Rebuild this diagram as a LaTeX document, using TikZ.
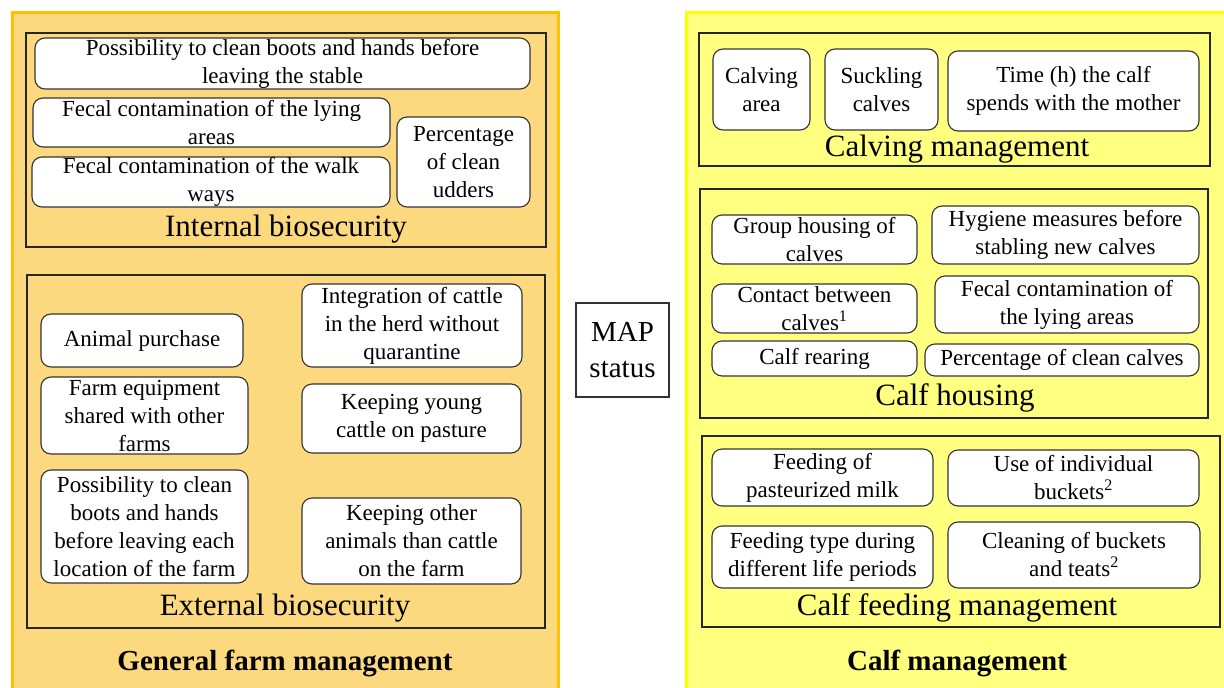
\documentclass[tikz,border=0pt]{standalone}
\usepackage{fontspec}
\setmainfont{Liberation Serif}
\definecolor{farmfill}{RGB}{252,216,127}
\definecolor{farmline}{RGB}{255,192,0}
\definecolor{calffill}{RGB}{255,255,128}
\definecolor{calfline}{RGB}{255,255,0}

\begin{document}
\begin{tikzpicture}[x=1pt, y=-1pt,
  item/.style = {shape=rectangle, rounded corners=10pt, draw=black!80, line width=1.1pt,
    fill=white, align=center, inner sep=0pt, font=\fontsize{23}{28}\selectfont},
  group/.style = {draw=black!85, line width=1.8pt},
  grouptitle/.style = {font=\fontsize{31}{36}\selectfont},
  paneltitle/.style = {font=\fontsize{29}{34}\selectfont\bfseries}]
  \useasboundingbox (0,0) rectangle (1224,688);
  \clip (0,0) rectangle (1224,688);

  % the two panels
  \draw[fill=farmfill, draw=farmline, line width=3pt] (12,12) rectangle (558,700);
  \draw[fill=calffill, draw=calfline, line width=3pt] (686,12) rectangle (1230,700);

  % internal biosecurity
  \draw[group] (26,33) rectangle (546,247);
  \node[item, minimum width=495, minimum height=51] (ib1) at (282.5,63.5)
    {Possibility to clean boots and hands before\\leaving the stable};
  \node[item, minimum width=357, minimum height=49] (ib2) at (211.5,122.5)
    {Fecal contamination of the lying\\areas};
  \node[item, minimum width=358, minimum height=50] (ib3) at (211,182)
    {Fecal contamination of the walk\\ways};
  \node[item, minimum width=133, minimum height=90] (ib4) at (463.5,162)
    {Percentage\\of clean\\udders};
  \node[grouptitle] (ibtitle) at (286,229) {Internal biosecurity};

  % external biosecurity
  \draw[group] (27,275) rectangle (545,628);
  \node[item, minimum width=202, minimum height=53] (eb1) at (142,340.5)
    {Animal purchase};
  \node[item, minimum width=207, minimum height=77] (eb2) at (144.5,415.5)
    {Farm equipment\\shared with other\\farms};
  \node[item, minimum width=207, minimum height=113] (eb3) at (144.5,526.5)
    {Possibility to clean\\boots and hands\\before leaving each\\location of the farm};
  \node[item, minimum width=220, minimum height=83] (eb4) at (412,325.5)
    {Integration of cattle\\in the herd without\\quarantine};
  \node[item, minimum width=219, minimum height=69] (eb5) at (411.5,418.5)
    {Keeping young\\cattle on pasture};
  \node[item, minimum width=219, minimum height=86] (eb6) at (411.5,541)
    {Keeping other\\animals than cattle\\on the farm};
  \node[grouptitle] (ebtitle) at (285,608) {External biosecurity};

  \node[paneltitle] (farmtitle) at (285,663) {General farm management};

  % MAP status
  \node[draw=black!80, line width=1.1pt, fill=white, align=center, inner sep=0pt,
    minimum width=93, minimum height=94, font=\fontsize{29}{36}\selectfont]
    (map) at (622.5,350) {MAP\\status};

  % calving management
  \draw[group] (699,33) rectangle (1210,166);
  \node[item, minimum width=97, minimum height=81] (cm1) at (761.5,89.5)
    {Calving\\area};
  \node[item, minimum width=113, minimum height=81] (cm2) at (881.5,89.5)
    {Suckling\\calves};
  \node[item, minimum width=251, minimum height=80] (cm3) at (1073.5,91)
    {Time (h) the calf\\spends with the mother};
  \node[grouptitle] (cmtitle) at (957,149) {Calving management};

  % calf housing
  \draw[group] (700,189) rectangle (1208,418);
  \node[item, minimum width=205, minimum height=49] (ch1) at (814.5,239.5)
    {Group housing of\\calves};
  \node[item, minimum width=267, minimum height=58] (ch2) at (1065.5,235)
    {Hygiene measures before\\stabling new calves};
  \node[item, minimum width=205, minimum height=49] (ch3) at (814.5,308.5)
    {Contact between\\calves\textsuperscript{1}};
  \node[item, minimum width=264, minimum height=57] (ch4) at (1067,304.5)
    {Fecal contamination of\\the lying areas};
  \node[item, minimum width=205, minimum height=35] (ch5) at (814.5,358.5)
    {Calf rearing};
  \node[item, minimum width=274, minimum height=32] (ch6) at (1062,360)
    {Percentage of clean calves};
  \node[grouptitle] (chtitle) at (955,398) {Calf housing};

  % calf feeding management
  \draw[group] (702,436) rectangle (1220,627);
  \node[item, minimum width=221, minimum height=57] (cf1) at (822.5,477.5)
    {Feeding of\\pasteurized milk};
  \node[item, minimum width=251, minimum height=56] (cf2) at (1073.5,478)
    {Use of individual\\buckets\textsuperscript{2}};
  \node[item, minimum width=221, minimum height=62] (cf3) at (822.5,557)
    {Feeding type during\\different life periods};
  \node[item, minimum width=252, minimum height=66] (cf4) at (1074,555)
    {Cleaning of buckets\\and teats\textsuperscript{2}};
  \node[grouptitle] (cftitle) at (957,608) {Calf feeding management};

  \node[paneltitle] (calftitle) at (957,663) {Calf management};
\end{tikzpicture}
\end{document}
